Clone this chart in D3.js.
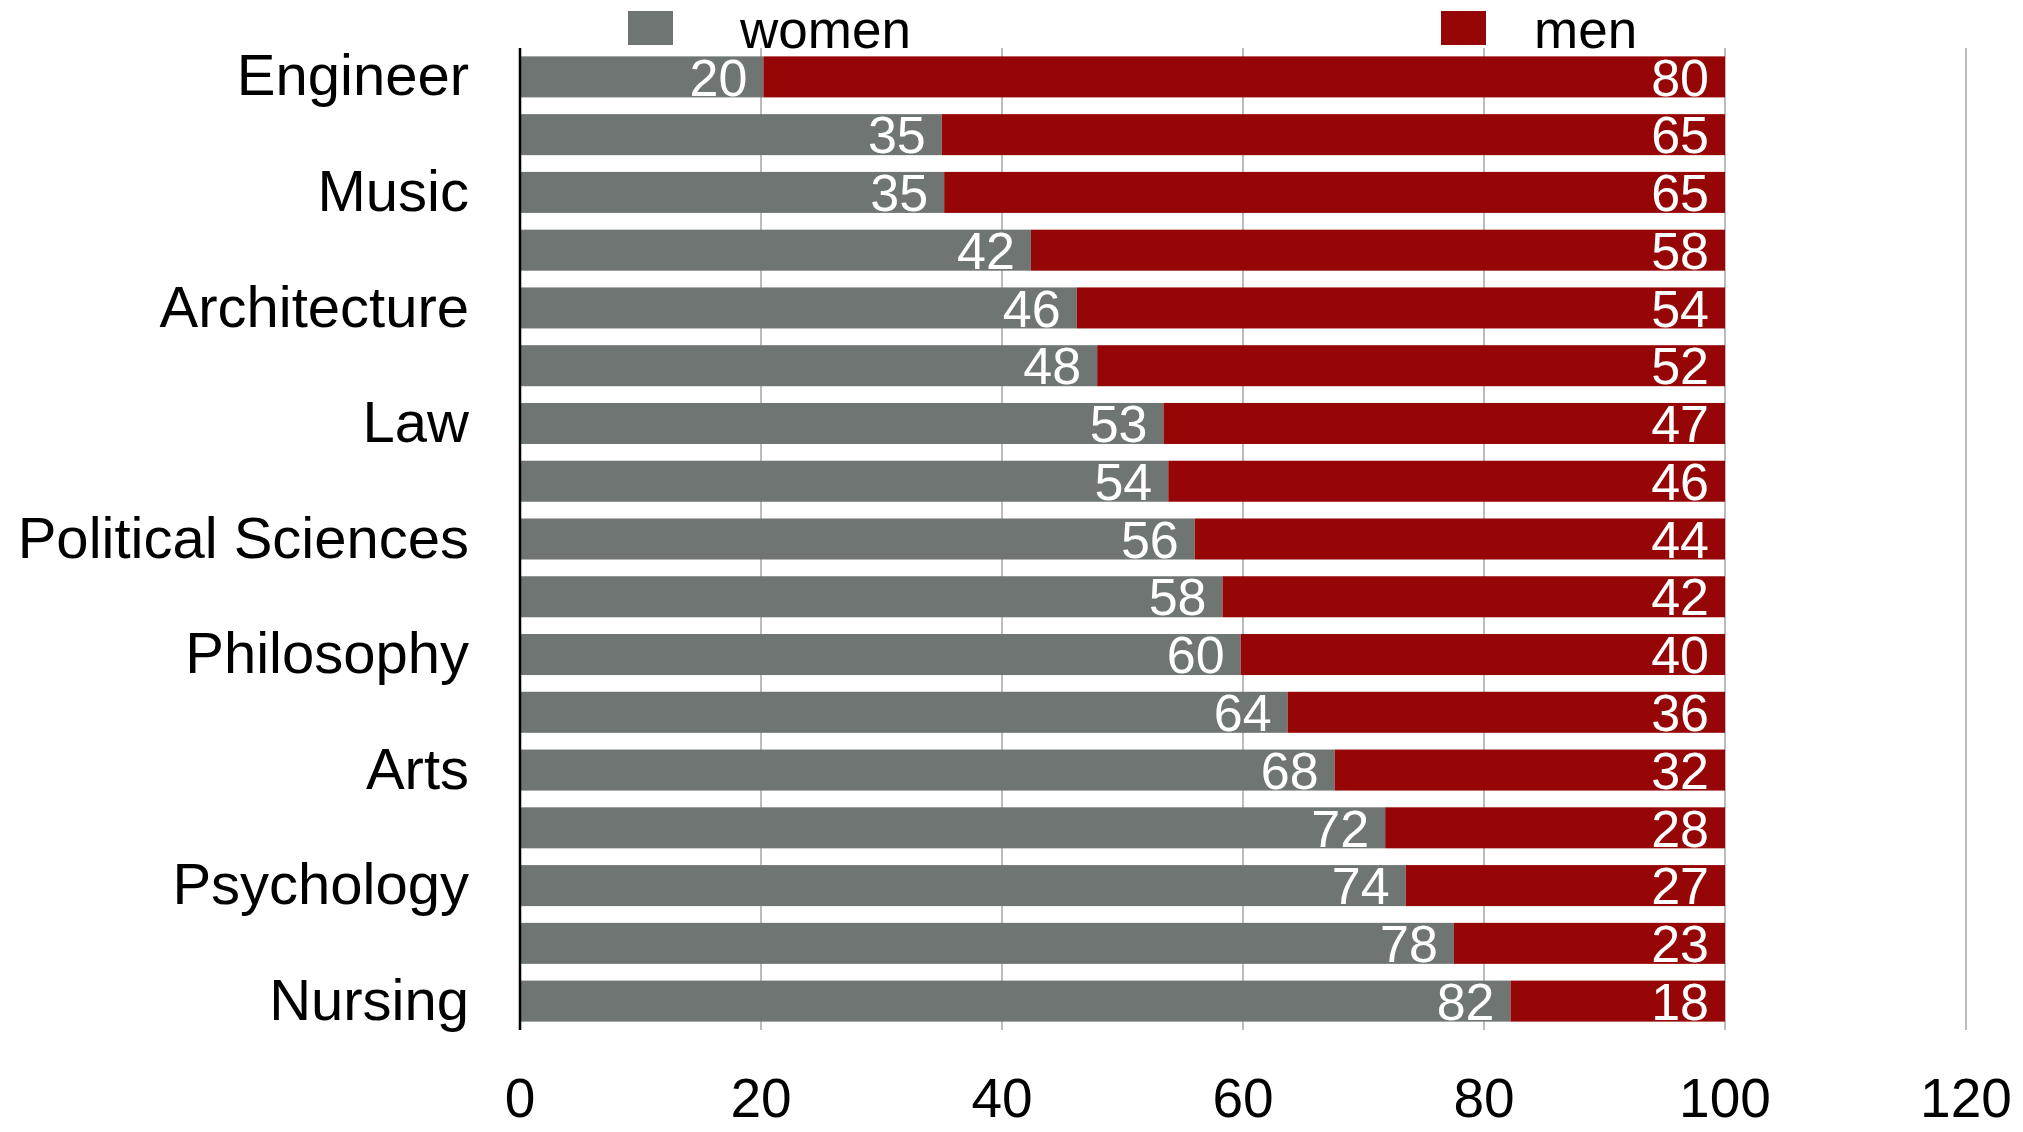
<!DOCTYPE html>
<html>
<head>
<meta charset="utf-8">
<script src="https://cdn.jsdelivr.net/npm/d3@7"></script>
<style>
  html, body { margin: 0; padding: 0; background: #ffffff; }
  svg { display: block; font-family: "Liberation Sans", Arial, sans-serif; }
</style>
</head>
<body>
<svg id="chart" width="2023" height="1132"></svg>
<script>
// ---- data ----
const categories = ["Engineer", "", "Music", "", "Architecture", "", "Law", "", "Political Sciences", "", "Philosophy", "", "Arts", "", "Psychology", "", "Nursing"];
const women = [20.2, 35, 35.2, 42.4, 46.2, 47.9, 53.4, 53.8, 56, 58.3, 59.8, 63.7, 67.6, 71.8, 73.5, 77.5, 82.2];
const men   = [79.8, 65, 64.8, 57.6, 53.8, 52.1, 46.6, 46.2, 44, 41.7, 40.2, 36.3, 32.4, 28.2, 26.5, 22.5, 17.8];
const seriesNames = ["women", "men"];
const seriesColors = ["#6f7572", "#960606"];
const xTicks = [0, 20, 40, 60, 80, 100, 120];

// ---- layout ----
const svg = d3.select("#chart");
const x = d3.scaleLinear().domain([0, 120]).range([520, 1966]);
const y = d3.scaleBand().domain(d3.range(categories.length)).range([48, 1030])
  .paddingInner(0.29).paddingOuter(0.145);

const rows = categories.map((c, i) => ({ i, label: c, women: women[i], men: men[i] }));
const stack = d3.stack().keys(seriesNames)(rows);

// gridlines
svg.append("g").selectAll("line")
  .data(xTicks.filter(t => t > 0))
  .join("line")
  .attr("x1", d => x(d)).attr("x2", d => x(d))
  .attr("y1", 48).attr("y2", 1030)
  .attr("stroke", "#bcbcbc").attr("stroke-width", 2);

// bars
const layers = svg.append("g").selectAll("g")
  .data(stack).join("g")
  .attr("fill", (d, k) => seriesColors[k]);

layers.selectAll("rect")
  .data(d => d)
  .join("rect")
  .attr("x", d => x(d[0]))
  .attr("width", d => x(d[1]) - x(d[0]))
  .attr("y", d => y(d.data.i))
  .attr("height", y.bandwidth());

// data labels
layers.selectAll("text")
  .data(d => d.map(p => ({ p, key: d.key })))
  .join("text")
  .attr("x", d => x(d.p[1]) - 16)
  .attr("y", d => y(d.p.data.i) + y.bandwidth() / 2)
  .attr("dy", "0.36em")
  .attr("text-anchor", "end")
  .attr("fill", "#ffffff")
  .attr("font-size", 52)
  .text(d => Math.round(d.p.data[d.key]));

// y axis line
svg.append("line")
  .attr("x1", x(0)).attr("x2", x(0))
  .attr("y1", 48).attr("y2", 1030)
  .attr("stroke", "#000").attr("stroke-width", 2.5);

// category labels
svg.append("g").selectAll("text")
  .data(rows)
  .join("text")
  .attr("x", 469)
  .attr("y", d => y(d.i) + y.bandwidth() / 2)
  .attr("dy", "0.32em")
  .attr("text-anchor", "end")
  .attr("fill", "#000")
  .attr("font-size", 58)
  .text(d => d.label);

// x tick labels
svg.append("g").selectAll("text")
  .data(xTicks)
  .join("text")
  .attr("x", d => x(d))
  .attr("y", 1117)
  .attr("text-anchor", "middle")
  .attr("fill", "#000")
  .attr("font-size", 55)
  .text(d => d);

// legend
const legendX = [628, 1441];
const legendTextX = [740, 1534];
const legend = svg.append("g").selectAll("g")
  .data(seriesNames)
  .join("g");
legend.append("rect")
  .attr("x", (d, k) => legendX[k]).attr("y", 11).attr("width", 45).attr("height", 34)
  .attr("fill", (d, k) => seriesColors[k]);
legend.append("text")
  .attr("x", (d, k) => legendTextX[k]).attr("y", 48)
  .attr("fill", "#000")
  .attr("font-size", 53)
  .text(d => d);
</script>
</body>
</html>
